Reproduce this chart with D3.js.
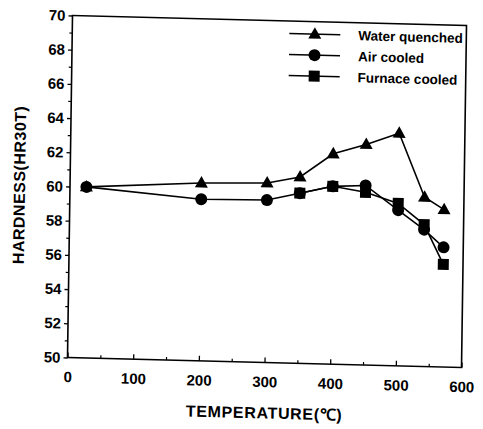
<!DOCTYPE html>
<html>
<head>
<meta charset="utf-8">
<script src="https://cdn.jsdelivr.net/npm/d3@7/dist/d3.min.js"></script>
<style>
  html, body { margin: 0; padding: 0; background: #fff; }
  svg { display: block; }
</style>
</head>
<body>
<div id="chart"></div>
<script>
// ---- data ----
const temps = [25, 200, 300, 350, 400, 450, 500, 540, 570];
const waterQuenched = [60.0, 60.4, 60.5, 60.9, 62.3, 62.9, 63.6, 59.9, 59.2];
const airCooled = [60.0, 59.45, 59.5, 59.95, 60.4, 60.5, 59.1, 58.0, 57.0];
const furnaceTemps = [350, 400, 450, 500, 540, 570];
const furnaceCooled = [59.95, 60.4, 60.1, 59.5, 58.3, 56.0];

const seriesNames = ["Water quenched", "Air cooled", "Furnace cooled"];
const seriesMarkers = ["triangle", "circle", "square"];
const xTickValues = [0, 100, 200, 300, 400, 500, 600];
const xMinorTicks = [50, 150, 250, 350, 450, 550];
const yTickValues = [50, 52, 54, 56, 58, 60, 62, 64, 66, 68, 70];
const yMinorTicks = [51, 53, 55, 57, 59, 61, 63, 65, 67, 69];
const xTitle = "TEMPERATURE(\u2103)";
const yTitle = "HARDNESS(HR30T)";

// ---- layout ----
const width = 483, height = 429;
const W = 394, H = 342;
const font = "'Liberation Sans', Arial, Helvetica, sans-serif";

const svg = d3.select("#chart").append("svg")
  .attr("width", width).attr("height", height)
  .style("background", "#fff");

// slight skew to follow the scanned figure
const g = svg.append("g")
  .attr("transform", "matrix(1,0.0254,-0.0146,1,72.5,15.5)");

const x = d3.scaleLinear().domain([0, 600]).range([0, W]);
const y = d3.scaleLinear().domain([50, 70]).range([H, 0]);

// frame
g.append("rect").attr("x", 0).attr("y", 0).attr("width", W).attr("height", H)
  .attr("fill", "none").attr("stroke", "#000").attr("stroke-width", 1.6);

// x axis
const xAxis = g.append("g").attr("transform", `translate(0,${H})`)
  .call(d3.axisBottom(x).tickValues(xTickValues).tickSizeInner(-5).tickSizeOuter(0).tickPadding(14));
xAxis.select(".domain").remove();
xAxis.selectAll("line").attr("stroke", "#000").attr("stroke-width", 1.3);
xAxis.attr("font-family", font).attr("font-size", 15).attr("font-weight", "bold");
xAxis.selectAll("text").attr("fill", "#000");

const xMinor = g.append("g").attr("transform", `translate(0,${H})`)
  .call(d3.axisBottom(x).tickValues(xMinorTicks).tickSizeInner(-3).tickSizeOuter(0).tickFormat(""));
xMinor.select(".domain").remove();
xMinor.selectAll("line").attr("stroke", "#000").attr("stroke-width", 1.2);

// y axis
const yAxis = g.append("g")
  .call(d3.axisLeft(y).tickValues(yTickValues).tickSizeInner(4).tickSizeOuter(0).tickPadding(3));
yAxis.select(".domain").remove();
yAxis.selectAll("line").attr("stroke", "#000").attr("stroke-width", 1.3);
yAxis.attr("font-family", font).attr("font-size", 15).attr("font-weight", "bold");
yAxis.selectAll("text").attr("fill", "#000");

const yMinor = g.append("g")
  .call(d3.axisLeft(y).tickValues(yMinorTicks).tickSizeInner(3).tickSizeOuter(0).tickFormat(""));
yMinor.select(".domain").remove();
yMinor.selectAll("line").attr("stroke", "#000").attr("stroke-width", 1.2);

// axis titles
g.append("text")
  .attr("x", x(300)).attr("y", H + 56)
  .attr("text-anchor", "middle")
  .attr("font-family", font).attr("font-size", 16).attr("font-weight", "bold")
  .attr("textLength", 156).attr("lengthAdjust", "spacing")
  .text(xTitle);

g.append("text")
  .attr("transform", `translate(-45,${y(60)}) rotate(-90)`)
  .attr("text-anchor", "middle")
  .attr("font-family", font).attr("font-size", 16).attr("font-weight", "bold")
  .attr("textLength", 158).attr("lengthAdjust", "spacing")
  .text(yTitle);

// markers
function drawMarker(sel, type, cx, cy) {
  if (type === "triangle") {
    sel.append("path")
      .attr("d", `M${cx},${cy - 7}L${cx + 6.5},${cy + 4.5}L${cx - 6.5},${cy + 4.5}Z`)
      .attr("fill", "#000");
  } else if (type === "circle") {
    sel.append("circle").attr("cx", cx).attr("cy", cy).attr("r", 6).attr("fill", "#000");
  } else {
    sel.append("rect").attr("x", cx - 5.5).attr("y", cy - 5.5)
      .attr("width", 11).attr("height", 11).attr("fill", "#000");
  }
}

const line = d3.line().x(d => x(d[0])).y(d => y(d[1]));
const series = [
  d3.zip(temps, waterQuenched),
  d3.zip(temps, airCooled),
  d3.zip(furnaceTemps, furnaceCooled)
];

series.forEach((pts, i) => {
  const sg = g.append("g");
  sg.append("path").datum(pts).attr("d", line)
    .attr("fill", "none").attr("stroke", "#000").attr("stroke-width", 1.6);
  pts.forEach(p => drawMarker(sg, seriesMarkers[i], x(p[0]), y(p[1])));
});

// legend
const legend = g.append("g");
const legendRows = [12.5, 33.5, 54.5];
seriesNames.forEach((name, i) => {
  const ly = legendRows[i];
  legend.append("line").attr("x1", 217).attr("x2", 268).attr("y1", ly).attr("y2", ly)
    .attr("stroke", "#000").attr("stroke-width", 1.6);
  drawMarker(legend, seriesMarkers[i], 242.5, ly);
  legend.append("text").attr("x", 286).attr("y", ly + 5)
    .attr("font-family", font).attr("font-size", 13.5).attr("font-weight", "bold")
    .text(name);
});
</script>
</body>
</html>
